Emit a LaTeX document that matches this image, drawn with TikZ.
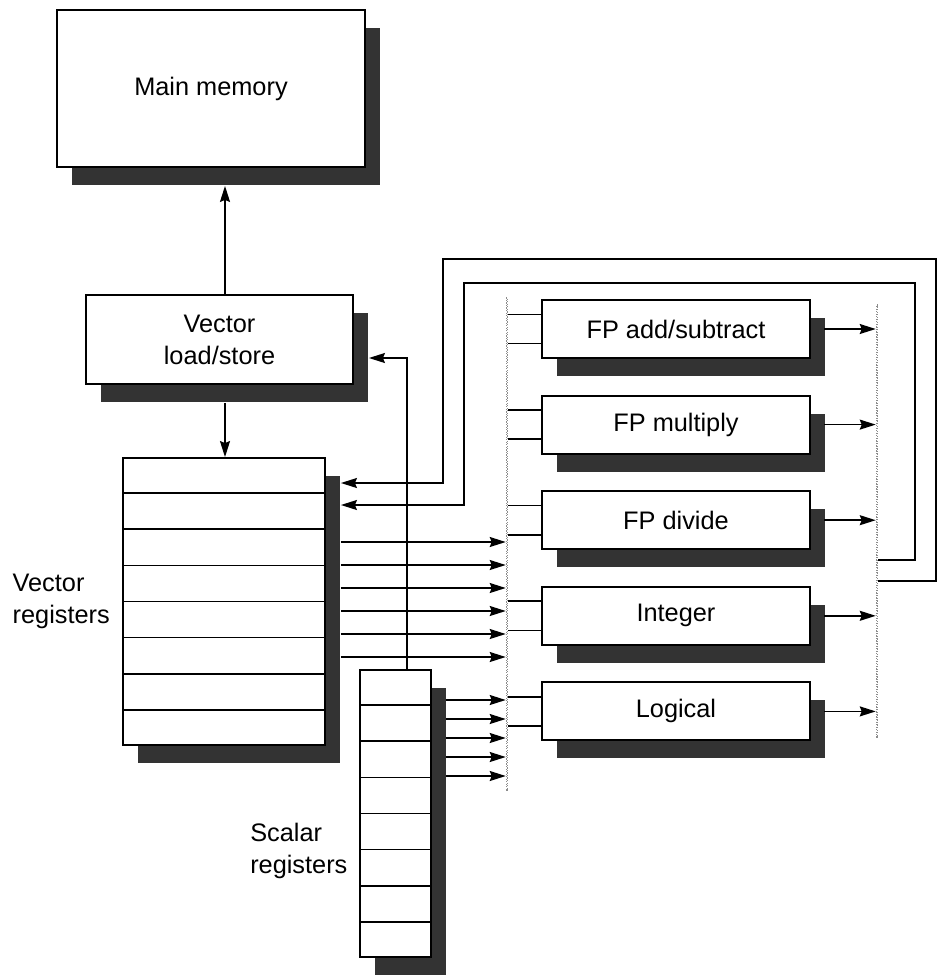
\documentclass[tikz,border=0pt]{standalone}
\usepackage{fontspec}
\setmainfont{Liberation Sans}
\usepackage{tikz}
\usetikzlibrary{arrows.meta,positioning,calc,shadows}
\definecolor{ShadeDark}{HTML}{333333}
\definecolor{BusGray}{HTML}{8C8C8C}

\begin{document}
\begin{tikzpicture}[
  x=0.75pt, y=-0.75pt,
  font=\fontsize{19}{24}\selectfont,
  node distance=26.8pt,
  block/.style={draw, line width=1.4pt, fill=white, inner sep=0pt, align=center,
    drop shadow={shadow xshift=11.25pt, shadow yshift=-13.5pt, fill=ShadeDark, opacity=1}},
  unitbox/.style={block, minimum width=201pt, minimum height=43.5pt},
  regbank/.style={block, minimum height=215.25pt},
  bus/.style={draw=BusGray, densely dotted, line width=0.9pt, inner sep=0pt, minimum width=1pt},
  tag/.style={align=left, inner sep=0pt},
  wire/.style={line width=1.2pt},
  arrow/.style={wire, -{Stealth[length=12pt, width=7.5pt, inset=1.5pt]}}
]
  \useasboundingbox (0,0) rectangle (945,975);

  \node[block, minimum width=231pt, minimum height=117.75pt] (mem) at (211,88.5) {Main memory};
  \node[block, minimum width=200.25pt, minimum height=66.75pt] (ldst) at (219.5,339.5) {Vector\\load/store};
  \node[regbank, minimum width=151.5pt] (vregs) at (224,601.5) {};
  \node[regbank, minimum width=53.25pt] (sregs) at (395.5,813.5) {};
  \node[tag, left=9pt of vregs] (vlabel) {Vector\\registers};
  \node[tag, anchor=west] (slabel) at (250,851) {Scalar\\registers};

  \node[unitbox] (fpadd) at (676,329) {FP add/subtract};
  \node[unitbox, below=of fpadd] (fpmul) {FP multiply};
  \node[unitbox, below=of fpmul] (fpdiv) {FP divide};
  \node[unitbox, below=of fpdiv] (intu) {Integer};
  \node[unitbox, below=of intu] (logic) {Logical};

  \node[bus, minimum height=369pt] (inbus) at (507,544) {};
  \node[bus, minimum height=324pt] (outbus) at (877,521) {};

  % register rows
  \foreach \k in {1,...,7}{
    \draw[wire] ($(vregs.north west)!\k/8!(vregs.south west)$) -- ($(vregs.north east)!\k/8!(vregs.south east)$);
    \draw[wire] ($(sregs.north west)!\k/8!(sregs.south west)$) -- ($(sregs.north east)!\k/8!(sregs.south east)$);
  }

  \coordinate (memfoot) at ([yshift=-13.5pt]mem.south);
  \coordinate (ldfoot) at ([yshift=-13.5pt]ldst.south);
  \coordinate (ldside) at ([xshift=11.25pt]ldst.east);
  \coordinate (vside) at ([xshift=11.25pt]vregs.east);
  \coordinate (sside) at ([xshift=10.5pt]sregs.east);

  \draw[arrow] (225,0 |- ldst.north) -- (225,0 |- memfoot);
  \draw[arrow] (225,0 |- ldfoot) -- (225,0 |- vregs.north);
  \draw[arrow] (407,0 |- sregs.north) |- (ldside |- 0,358);

  \foreach \y in {542,565,588,611,634,657}
    \draw[arrow] (vside |- 0,\y) -- (inbus.west |- 0,\y);
  \foreach \y in {700,719,738,757,776}
    \draw[arrow] (sside |- 0,\y) -- (inbus.west |- 0,\y);

  % units: two inputs, one result
  \foreach \u in {fpadd,fpmul,fpdiv,intu,logic}{
    \coordinate (hi\u) at ([yshift=11pt]\u.west);
    \coordinate (lo\u) at ([yshift=-11pt]\u.west);
    \coordinate (out\u) at ([xshift=10pt]\u.east);
    \draw[wire] (inbus.east |- hi\u) -- (hi\u);
    \draw[wire] (inbus.east |- lo\u) -- (lo\u);
    \draw[arrow] (out\u) -- (outbus.west |- out\u);
  }

  % results back to the vector registers
  \draw[arrow] (outbus.east |- 0,581) -| (936,259) -| (443,483) -- (vside |- 0,483);
  \draw[arrow] (outbus.east |- 0,560) -| (915,283) -| (464,505) -- (vside |- 0,505);
\end{tikzpicture}
\end{document}
